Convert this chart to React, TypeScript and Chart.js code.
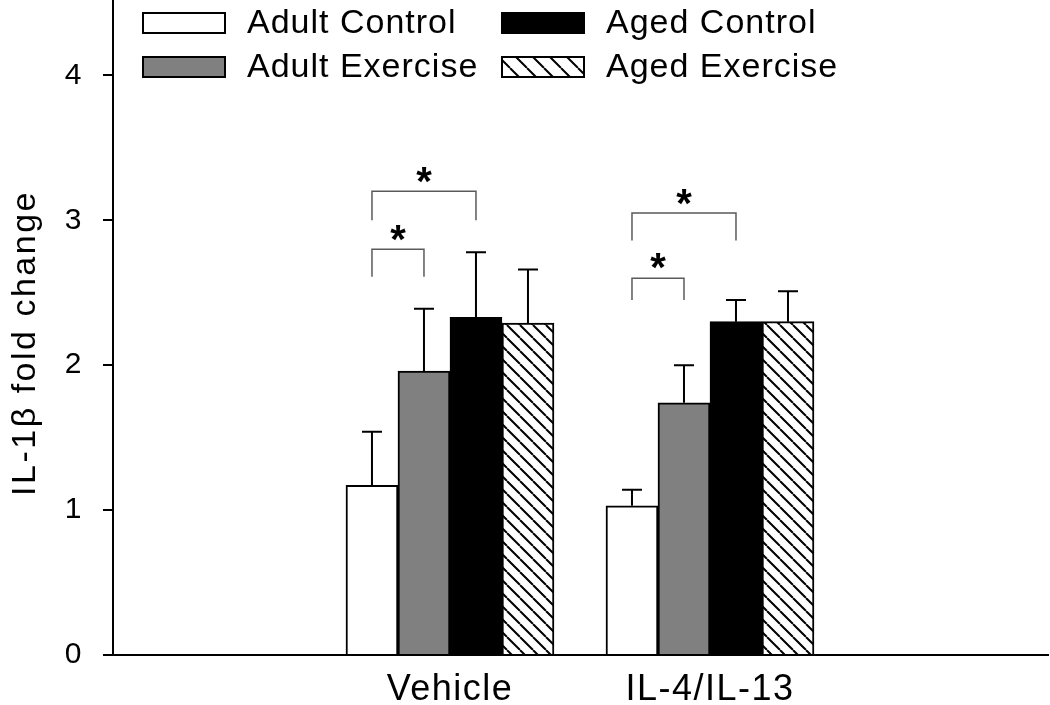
import React, { useEffect, useRef } from 'react';
import { Chart, registerables } from 'chart.js';

Chart.register(...registerables);

// ---------- data ----------
const categories = ['Vehicle', 'IL-4/IL-13'];
const categoryPositions = [1, 2];
const seriesNames = ['Adult Control', 'Adult Exercise', 'Aged Control', 'Aged Exercise'];

const adultControl = [1.17, 1.03];
const adultExercise = [1.96, 1.74];
const agedControl = [2.33, 2.3];
const agedExercise = [2.29, 2.3];

const adultControlErr = [0.37, 0.11];
const adultExerciseErr = [0.43, 0.26];
const agedControlErr = [0.45, 0.15];
const agedExerciseErr = [0.37, 0.21];

const yTicks = [0, 1, 2, 3, 4];
const yMax = 4.52;
const xMin = -0.296;
const xMax = 3.3;

// significance brackets: category index, from series, to series, leg bottom, bracket top, star centre
const bracketCat = [0, 0, 1, 1];
const bracketFrom = [0, 0, 0, 0];
const bracketTo = [1, 2, 1, 2];
const bracketBase = [2.61, 3.0, 2.45, 2.86];
const bracketTop = [2.8, 3.2, 2.6, 3.05];
const bracketStar = [2.91, 3.31, 2.72, 3.16];

const seriesValues = [adultControl, adultExercise, agedControl, agedExercise];
const seriesErrors = [adultControlErr, adultExerciseErr, agedControlErr, agedExerciseErr];

const FONT = '"Liberation Sans", Arial, Helvetica, sans-serif';

function makeHatch(ctx: CanvasRenderingContext2D, size: number, lw: number) {
  const c = document.createElement('canvas');
  c.width = size;
  c.height = size;
  const g = c.getContext('2d')!;
  g.fillStyle = '#ffffff';
  g.fillRect(0, 0, size, size);
  g.strokeStyle = '#000000';
  g.lineWidth = lw;
  g.beginPath();
  for (const k of [-1, 0, 1]) {
    g.moveTo(k * size, 0);
    g.lineTo(k * size + size, size);
  }
  g.stroke();
  return ctx.createPattern(c, 'repeat')!;
}

export default function App() {
  const canvasRef = useRef<HTMLCanvasElement | null>(null);

  useEffect(() => {
    document.body.style.margin = '0';
    const canvas = canvasRef.current!;
    const ctx0 = canvas.getContext('2d')!;
    const hatchBar = makeHatch(ctx0, 13, 2);
    const hatchLegend = makeHatch(ctx0, 17, 2);

    const fills: any[] = ['#ffffff', '#808080', '#000000', hatchBar];
    const legendFills: any[] = ['#ffffff', '#808080', '#000000', hatchLegend];

    const overlay = {
      id: 'overlay',
      beforeDraw(chart: any) {
        chart.ctx.letterSpacing = '1.5px';
      },
      beforeDatasetsDraw(chart: any) {
        chart.ctx.letterSpacing = '0px';
      },
      afterDatasetsDraw(chart: any) {
        const ctx: CanvasRenderingContext2D = chart.ctx;
        const ys = chart.scales.y;
        ctx.save();
        ctx.letterSpacing = '0px';
        // error bars
        ctx.strokeStyle = '#000000';
        ctx.lineWidth = 2;
        seriesValues.forEach((vals, di) => {
          const meta = chart.getDatasetMeta(di);
          meta.data.forEach((el: any, i: number) => {
            const yTop = ys.getPixelForValue(vals[i] + seriesErrors[di][i]);
            const yBar = ys.getPixelForValue(vals[i]);
            ctx.beginPath();
            ctx.moveTo(el.x, yBar);
            ctx.lineTo(el.x, yTop);
            ctx.moveTo(el.x - 10, yTop);
            ctx.lineTo(el.x + 10, yTop);
            ctx.stroke();
          });
        });
        // brackets
        ctx.strokeStyle = '#5a5a5a';
        ctx.lineWidth = 1.5;
        ctx.fillStyle = '#000000';
        ctx.font = `bold 40px ${FONT}`;
        ctx.textAlign = 'center';
        ctx.textBaseline = 'alphabetic';
        const m = ctx.measureText('*');
        const starOff = (m.actualBoundingBoxAscent - m.actualBoundingBoxDescent) / 2;
        bracketCat.forEach((cat, k) => {
          const x1 = chart.getDatasetMeta(bracketFrom[k]).data[cat].x;
          const x2 = chart.getDatasetMeta(bracketTo[k]).data[cat].x;
          const yb = ys.getPixelForValue(bracketBase[k]);
          const yt = ys.getPixelForValue(bracketTop[k]);
          ctx.beginPath();
          ctx.moveTo(x1, yb);
          ctx.lineTo(x1, yt);
          ctx.lineTo(x2, yt);
          ctx.lineTo(x2, yb);
          ctx.stroke();
          const ys2 = ys.getPixelForValue(bracketStar[k]);
          ctx.fillText('*', (x1 + x2) / 2, ys2 + starOff);
        });
        ctx.restore();
      },
      afterDraw(chart: any) {
        const ctx: CanvasRenderingContext2D = chart.ctx;
        ctx.save();
        // legend
        const boxX = [143, 143, 502, 502];
        const boxY = [13, 57, 13, 57];
        const textX = [247, 247, 606, 606];
        const baseY = [33, 77, 33, 77];
        ctx.font = `34px ${FONT}`;
        ctx.letterSpacing = '1px';
        ctx.textAlign = 'left';
        ctx.textBaseline = 'alphabetic';
        seriesNames.forEach((name, i) => {
          ctx.fillStyle = legendFills[i];
          ctx.fillRect(boxX[i], boxY[i], 82, 20);
          ctx.strokeStyle = '#000000';
          ctx.lineWidth = 2;
          ctx.strokeRect(boxX[i], boxY[i], 82, 20);
          ctx.fillStyle = '#000000';
          ctx.fillText(name, textX[i], baseY[i]);
        });
        // y title
        ctx.translate(35, 343);
        ctx.rotate(-Math.PI / 2);
        ctx.font = `34px ${FONT}`;
        ctx.letterSpacing = '2.5px';
        ctx.textAlign = 'center';
        ctx.fillStyle = '#000000';
        ctx.fillText('IL-1\u03b2 fold change', 0, 0);
        ctx.restore();
      },
    };

    const chart = new Chart(canvas, {
      type: 'bar',
      data: {
        datasets: seriesNames.map((name, di) => ({
          label: name,
          data: categoryPositions.map((x, i) => ({ x, y: seriesValues[di][i] })),
          backgroundColor: fills[di],
          borderColor: '#000000',
          borderWidth: 2,
          barThickness: 52,
        })),
      },
      options: {
        animation: false,
        responsive: true,
        maintainAspectRatio: false,
        layout: { padding: { top: 0, right: 2, left: 0, bottom: 0 } },
        plugins: {
          legend: { display: false },
          tooltip: { enabled: false },
        },
        scales: {
          x: {
            type: 'linear',
            offset: false,
            min: xMin,
            max: xMax,
            afterBuildTicks: (scale: any) => {
              scale.ticks = categoryPositions.map((v) => ({ value: v }));
            },
            afterFit: (scale: any) => {
              scale.height = 50;
              scale.paddingLeft = 0;
              scale.paddingRight = 0;
            },
            ticks: {
              autoSkip: false,
              maxRotation: 0,
              padding: 13,
              color: '#000000',
              font: { family: FONT, size: 36 },
              callback: (v: any) => {
                const idx = categoryPositions.indexOf(Number(v));
                return idx >= 0 ? categories[idx] : '';
              },
            },
            grid: { display: false, drawTicks: false, offset: false },
            border: { display: true, color: '#000000', width: 2 },
          },
          y: {
            type: 'linear',
            min: 0,
            max: yMax,
            afterBuildTicks: (scale: any) => {
              scale.ticks = yTicks.map((v) => ({ value: v }));
            },
            afterFit: (scale: any) => {
              scale.width = 113;
              scale.paddingTop = 0;
              scale.paddingBottom = 0;
            },
            ticks: {
              padding: 20,
              color: '#000000',
              font: { family: FONT, size: 30 },
            },
            grid: {
              display: true,
              drawOnChartArea: false,
              drawTicks: true,
              tickLength: 10,
              color: '#000000',
              lineWidth: 2,
            },
            border: { display: true, color: '#000000', width: 2 },
          },
        },
      } as any,
      plugins: [overlay],
    });

    return () => chart.destroy();
  }, []);

  return (
    <div style={{ position: 'relative', width: '1050px', height: '705px' }}>
      <canvas ref={canvasRef} />
    </div>
  );
}
